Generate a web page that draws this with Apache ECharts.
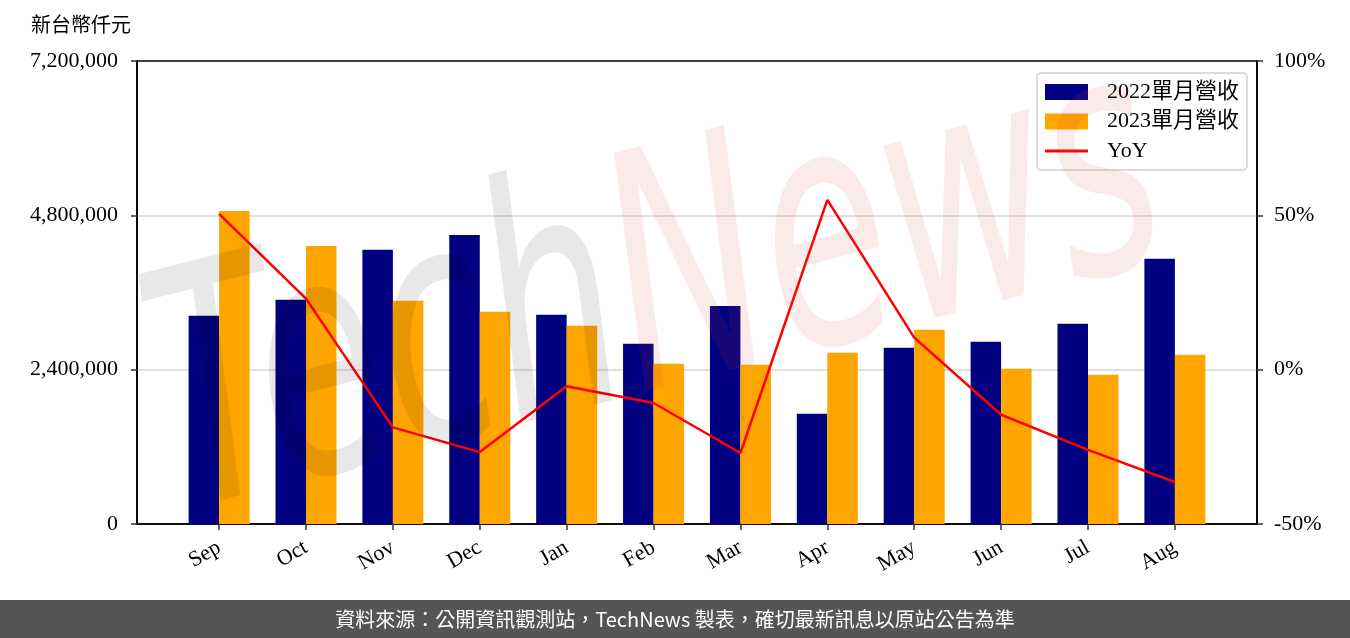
<!DOCTYPE html>
<html>
<head>
<meta charset="utf-8">
<script src="https://cdn.jsdelivr.net/npm/echarts@6/dist/echarts.min.js"></script>
<style>html,body{margin:0;padding:0;background:#fff;}#c{width:1350px;height:638px;}</style>
</head>
<body>
<div id="c"></div>
<script>
const months = ['Sep','Oct','Nov','Dec','Jan','Feb','Mar','Apr','May','Jun','Jul','Aug'];
const rev2022 = [3237000,3486000,4263000,4496000,3253000,2802000,3392000,1714000,2740000,2833000,3113000,4123000];
const rev2023 = [4869000,4325000,3470000,3299000,3082000,2491000,2476000,2662000,3019000,2413000,2320000,2631000];
const yoy = [50.5,23.0,-18.7,-26.7,-5.4,-10.8,-27.0,55.0,10.4,-14.6,-26.0,-36.4];

const FONT = '"Liberation Serif","Noto Sans CJK TC",serif';
const idx = months.map((m,i)=>i);
const lineIcon = 'path://M0,0 L0.01,0 L0.01,0.01 Z M0,6.5 L43,6.5 L43,9.5 L0,9.5 Z M42.99,16 L43,16 L43,15.99 Z';

const chart = echarts.init(document.getElementById('c'));
chart.setOption({
  animation:false,
  backgroundColor:'#fff',
  textStyle:{fontFamily:FONT},
  grid:{left:137,right:93,top:61,bottom:114,show:true,borderColor:'#000',borderWidth:1.6,backgroundColor:'transparent',containLabel:false},
  legend:{
    orient:'vertical',left:1037,top:73,padding:[8,8,8,8],
    itemWidth:43,itemHeight:16,itemGap:7.5,
    borderColor:'#d0d0d0',borderWidth:1.5,borderRadius:4,backgroundColor:'rgba(255,255,255,0.8)',
    textStyle:{fontFamily:FONT,fontSize:22,lineHeight:22,color:'#000',padding:[0,0,0,14]},
    data:[{name:'2022單月營收',icon:'rect'},{name:'2023單月營收',icon:'rect'},{name:'YoY',icon:lineIcon,itemStyle:{color:'#ff0000',borderWidth:0}}]
  },
  xAxis:{
    type:'value',min:-0.945,max:11.945,
    axisLine:{show:true,onZero:false,lineStyle:{color:'#000',width:1.6}},
    axisTick:{show:true,customValues:idx,length:6,lineStyle:{color:'#333',width:1.5}},
    axisLabel:{customValues:idx,formatter:v=>months[Math.round(v)],rotate:30,margin:22,fontSize:22,fontFamily:FONT,color:'#000'},
    splitLine:{show:false}
  },
  yAxis:[{
    type:'value',min:0,max:7200000,interval:2400000,
    axisLine:{show:true,onZero:false,lineStyle:{color:'#000',width:1.6}},
    axisTick:{show:true,length:6,lineStyle:{color:'#333',width:1.5}},
    axisLabel:{fontSize:22,fontFamily:FONT,color:'#000',margin:19,formatter:v=>v.toLocaleString('en-US')},
    splitLine:{show:true,showMinLine:false,showMaxLine:false,lineStyle:{color:'#d6d6d6',width:1.5}}
  },{
    type:'value',min:-50,max:100,interval:50,position:'right',
    axisLine:{show:true,onZero:false,lineStyle:{color:'#000',width:1.6}},
    axisTick:{show:true,length:6,lineStyle:{color:'#333',width:1.5}},
    axisLabel:{fontSize:22,fontFamily:FONT,color:'#000',margin:17,formatter:'{value}%'},
    splitLine:{show:false}
  }],
  series:[{
    name:'2022單月營收',type:'bar',yAxisIndex:0,barWidth:30.5,barGap:'0%',
    itemStyle:{color:'#000080'},
    data:rev2022.map((v,i)=>[i,v])
  },{
    name:'2023單月營收',type:'bar',yAxisIndex:0,barWidth:30.5,barGap:'0%',
    itemStyle:{color:'#FFA500'},
    data:rev2023.map((v,i)=>[i,v])
  },{
    name:'YoY',type:'line',yAxisIndex:1,symbol:'none',
    lineStyle:{color:'#ff0000',width:2.5},itemStyle:{color:'#ff0000'},
    data:yoy.map((v,i)=>[i,v]),z:5
  }],
  graphic:[{
    type:'text',left:31,top:14,
    style:{text:'新台幣仟元',font:'20px "Noto Sans CJK TC", serif',fill:'#000'}
  },{
    type:'text',x:660,y:300,rotation:0.25,scaleY:1.6,silent:true,z:50,
    style:{
      text:'{t|Tech}{n|News}',align:'center',verticalAlign:'middle',
      rich:{
        t:{fontSize:205,fontStyle:'italic',fontFamily:'"DejaVu Sans"',fill:'rgba(0,0,0,0.09)'},
        n:{fontSize:205,fontStyle:'italic',fontFamily:'"DejaVu Sans"',fill:'rgba(210,60,60,0.11)'}
      }
    }
  },{
    type:'rect',left:0,top:600,shape:{width:1350,height:38},style:{fill:'#555555'},z:60
  },{
    type:'text',x:675,y:619,z:61,
    style:{text:'資料來源：公開資訊觀測站，TechNews 製表，確切最新訊息以原站公告為準',align:'center',verticalAlign:'middle',font:'20px "Noto Sans CJK TC", sans-serif',fill:'#fff'}
  }]
});
</script>
</body>
</html>
